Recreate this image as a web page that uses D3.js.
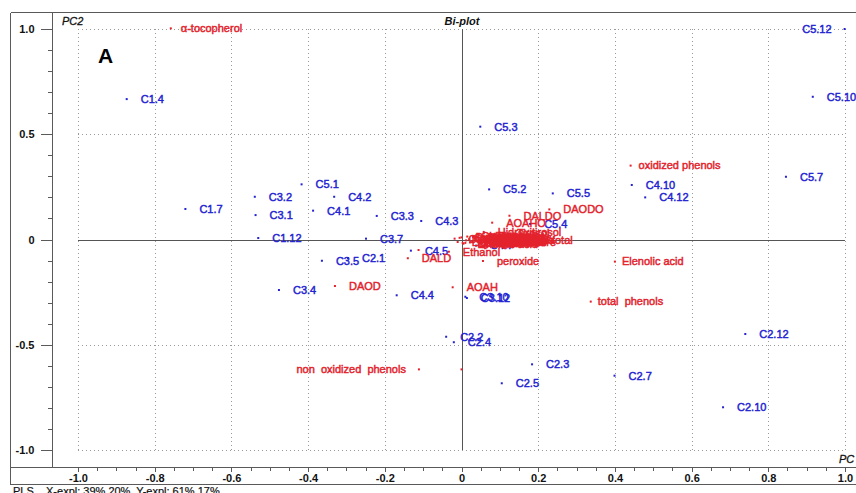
<!DOCTYPE html>
<html>
<head>
<meta charset="utf-8">
<script src="https://cdn.jsdelivr.net/npm/d3@7"></script>
<style>
  body { margin: 0; background: #fff; }
  svg { display: block; font-family: "Liberation Sans", Arial, sans-serif; }
  .lbl { white-space: pre; }
</style>
</head>
<body>
<svg id="chart" width="856" height="493"></svg>
<script>
// ---- PLS bi-plot: sample scores (blue) and variable loadings (red) ----

const sampleNames = ["C1.4", "C1.7", "C1.12", "C3.2", "C3.1", "C5.1", "C4.2", "C4.1", "C3.3", "C4.3",
  "C3.7", "C5.3", "C5.2", "C5.5", "C5.4", "C4.7", "C4.5", "C3.5", "C2.1", "C3.4", "C4.4",
  "C3.10", "C3.12", "C2.2", "C2.4", "C2.3", "C2.5", "C2.7", "C2.10", "C2.12",
  "C4.10", "C4.12", "C5.7", "C5.10", "C5.12"];
const sampleX = [-0.873, -0.720, -0.530, -0.539, -0.537, -0.417, -0.332, -0.387, -0.221, -0.105,
  -0.249, 0.049, 0.072, 0.238, 0.179, 0.038, -0.132, -0.364, -0.296, -0.476, -0.169,
  0.010, 0.014, -0.040, -0.020, 0.184, 0.105, 0.399, 0.682, 0.740,
  0.444, 0.479, 0.846, 0.916, 0.999];
const sampleY = [0.667, 0.145, 0.007, 0.203, 0.116, 0.262, 0.203, 0.137, 0.112, 0.088,
  0.004, 0.536, 0.238, 0.219, 0.074, -0.029, -0.053, -0.101, -0.088, -0.240, -0.265,
  -0.272, -0.278, -0.462, -0.488, -0.593, -0.683, -0.647, -0.797, -0.449,
  0.259, 0.200, 0.298, 0.678, 1.000];

const variableNames = ["α-tocopherol", "oxidized phenols", "DAODO", "DALDO", "AOAHO",
  "Hidroxitirosol", "Tirosol", "Tocopherol total",
  "Oleuropein", "Ligstroside", "Pinoresinol", "Luteolin", "Apigenin", "Vanillic acid",
  "Acidity", "K232", "K270", "Oleic acid", "Squalene", "Chlorophyll", "Carotenoids",
  "Linoleic acid", "Stability", "Caffeic acid", "Ferulic acid", "Palmitic acid",
  "Stearic acid", "Sterols", "Erythrodiol", "Uvaol", "Bitterness", "Fruitiness",
  "Pungency", "Moisture", "Waxes", "Syringic acid",
  "Ethanol", "peroxide", "DALD", "AOAH", "DAOD", "Elenolic acid", "total  phenols",
  "non  oxidized  phenols", "", ""];
const variableX = [-0.758, 0.441, 0.229, 0.125, 0.080,
  0.058, 0.108, 0.051,
  -0.018, -0.010, 0.000, 0.010, 0.020, 0.028,
  0.040, 0.045, 0.060, 0.035, 0.065, 0.015, 0.050,
  0.005, 0.075, -0.005, 0.012, 0.022, 0.030,
  0.085, 0.042, 0.095, 0.055, 0.068, 0.080, 0.100, 0.110, 0.003,
  -0.033, 0.056, -0.140, -0.023, -0.330, 0.400, 0.337,
  -0.111, 0.000, -0.112];
const variableY = [1.003, 0.351, 0.143, 0.113, 0.080,
  0.036, 0.031, -0.002,
  0.004, -0.012, 0.010, -0.016, 0.002, -0.008,
  0.012, -0.018, 0.010, 0.006, -0.012, 0.014, -0.004,
  -0.020, 0.000, 0.008, -0.004, -0.014, 0.012,
  -0.008, -0.010, 0.004, 0.016, -0.002, 0.008, -0.012, 0.002, -0.016,
  -0.058, -0.102, -0.089, -0.227, -0.221, -0.105, -0.295,
  -0.617, -0.617, -0.050];

const xTickValues = [-1.0, -0.8, -0.6, -0.4, -0.2, 0, 0.2, 0.4, 0.6, 0.8, 1.0];
const xTickLabels = ["-1.0", "-0.8", "-0.6", "-0.4", "-0.2", "0", "0.2", "0.4", "0.6", "0.8", "1.0"];
const yTickValues = [-1.0, -0.5, 0, 0.5, 1.0];
const yTickLabels = ["-1.0", "-0.5", "0", "0.5", "1.0"];

const BLUE = "#2323d2";
const RED = "#e3222c";
const FRAME = "#5a5a5a";

const svg = d3.select("#chart");

const x = d3.scaleLinear().domain([-1, 1]).range([78, 845]);
const y = d3.scaleLinear().domain([-1, 1]).range([450, 29]);

// frame
const frame = svg.append("g").attr("stroke", FRAME).attr("stroke-width", 1).attr("shape-rendering", "crispEdges");
frame.append("line").attr("x1", 10.5).attr("x2", 10.5).attr("y1", 12.5).attr("y2", 484.5);
frame.append("line").attr("x1", 10.5).attr("x2", 856).attr("y1", 12.5).attr("y2", 12.5);
frame.append("line").attr("x1", 10.5).attr("x2", 856).attr("y1", 484.5).attr("y2", 484.5);
frame.append("line").attr("x1", 52.5).attr("x2", 52.5).attr("y1", 12.5).attr("y2", 467.5);
frame.append("line").attr("x1", 10.5).attr("x2", 856).attr("y1", 467.5).attr("y2", 467.5);

// dotted grid
const grid = svg.append("g").attr("stroke", "#9a9a9a").attr("stroke-width", 1)
  .attr("stroke-dasharray", "1,3").attr("shape-rendering", "crispEdges");
grid.selectAll("line.v").data(xTickValues.filter(d => d !== 0)).join("line")
  .attr("x1", d => Math.round(x(d)) + 0.5).attr("x2", d => Math.round(x(d)) + 0.5)
  .attr("y1", y(1)).attr("y2", y(-1));
grid.selectAll("line.h").data(yTickValues.filter(d => d !== 0)).join("line")
  .attr("x1", x(-1)).attr("x2", x(1))
  .attr("y1", d => Math.round(y(d)) + 0.5).attr("y2", d => Math.round(y(d)) + 0.5);

// zero lines
const zero = svg.append("g").attr("stroke", "#555").attr("stroke-width", 1).attr("shape-rendering", "crispEdges");
zero.append("line").attr("x1", x(-1)).attr("x2", x(1))
  .attr("y1", Math.round(y(0)) + 0.5).attr("y2", Math.round(y(0)) + 0.5);
zero.append("line").attr("x1", Math.round(x(0)) + 0.5).attr("x2", Math.round(x(0)) + 0.5)
  .attr("y1", y(1)).attr("y2", y(-1));

// axes
const yMinor = d3.range(-10, 11).map(i => i / 10).filter(v => Math.abs(v * 2 - Math.round(v * 2)) > 1e-6);
const xMinor = d3.range(-20, 21).map(i => i / 20).filter(v => Math.abs(v * 5 - Math.round(v * 5)) > 1e-6);

function styleAxis(g) {
  g.select(".domain").remove();
  g.selectAll(".tick line").attr("stroke", FRAME).attr("shape-rendering", "crispEdges");
}

const yAxisG = svg.append("g").attr("transform", "translate(52.5,0)")
  .call(d3.axisLeft(y).tickValues(yTickValues).tickSize(12).tickPadding(6)
    .tickFormat((d, i) => yTickLabels[i]))
  .call(styleAxis);
yAxisG.selectAll(".tick text").attr("font-size", 11).attr("font-weight", "bold")
  .attr("fill", "#111").attr("font-family", "Liberation Sans, Arial, sans-serif");
svg.append("g").attr("transform", "translate(52.5,0)")
  .call(d3.axisLeft(y).tickValues(yMinor).tickSize(5).tickFormat(""))
  .call(styleAxis);

const xAxisG = svg.append("g").attr("transform", "translate(0,467.5)")
  .call(d3.axisBottom(x).tickValues(xTickValues).tickSize(4)
    .tickFormat((d, i) => xTickLabels[i]))
  .call(styleAxis);
xAxisG.selectAll(".tick text").attr("y", 14.5).attr("dy", 0).attr("font-size", 11)
  .attr("font-weight", "bold").attr("fill", "#111")
  .attr("font-family", "Liberation Sans, Arial, sans-serif");
svg.append("g").attr("transform", "translate(0,467.5)")
  .call(d3.axisBottom(x).tickValues(xMinor).tickSize(3).tickFormat(""))
  .call(styleAxis);

// titles
svg.append("text").attr("x", 62).attr("y", 25).attr("font-size", 11).attr("font-style", "italic")
  .attr("fill", "#111").attr("stroke", "#111").attr("stroke-width", 0.3).text("PC2");
svg.append("text").attr("x", 462).attr("y", 25).attr("font-size", 11).attr("font-style", "italic")
  .attr("font-weight", "bold").attr("text-anchor", "middle").attr("fill", "#111").text("Bi-plot");
svg.append("text").attr("x", 839).attr("y", 463).attr("font-size", 11).attr("font-style", "italic")
  .attr("fill", "#111").attr("stroke", "#111").attr("stroke-width", 0.3).text("PC");
svg.append("text").attr("x", 98).attr("y", 63).attr("font-size", 21).attr("font-weight", "bold")
  .attr("fill", "#000").text("A");
svg.append("text").attr("class", "lbl").attr("x", 13).attr("y", 495).attr("font-size", 11)
  .attr("fill", "#111").attr("stroke", "#111").attr("stroke-width", 0.2)
  .text("PLS  . X-expl: 39%,20%  Y-expl: 61%,17%");

// point layers
const samples = sampleNames.map((n, i) => ({ name: n, px: sampleX[i], py: sampleY[i] }));
const variables = variableNames.map((n, i) => ({ name: n, px: variableX[i], py: variableY[i] }));

const labelGap = { "α-tocopherol": 10, "oxidized phenols": 8, "Elenolic acid": 7, "total  phenols": 7 };
const leftLabelled = new Set(["C5.12", "non  oxidized  phenols"]);

function drawPoints(data, color) {
  const g = svg.append("g");
  g.selectAll("rect").data(data).join("rect")
    .attr("x", d => x(d.px) - 1).attr("y", d => y(d.py) - 1)
    .attr("width", 2).attr("height", 2).attr("fill", color);
  g.selectAll("text").data(data.filter(d => d.name)).join("text")
    .attr("class", "lbl")
    .attr("x", d => {
      const gap = labelGap[d.name] ?? 14;
      return leftLabelled.has(d.name) ? x(d.px) - 13 : x(d.px) + gap;
    })
    .attr("y", d => y(d.py))
    .attr("dy", "0.35em")
    .attr("text-anchor", d => leftLabelled.has(d.name) ? "end" : "start")
    .attr("font-size", 11)
    .attr("fill", color)
    .attr("stroke", color).attr("stroke-width", 0.45)
    .text(d => d.name);
}

drawPoints(samples, BLUE);
drawPoints(variables, RED);
</script>
</body>
</html>
